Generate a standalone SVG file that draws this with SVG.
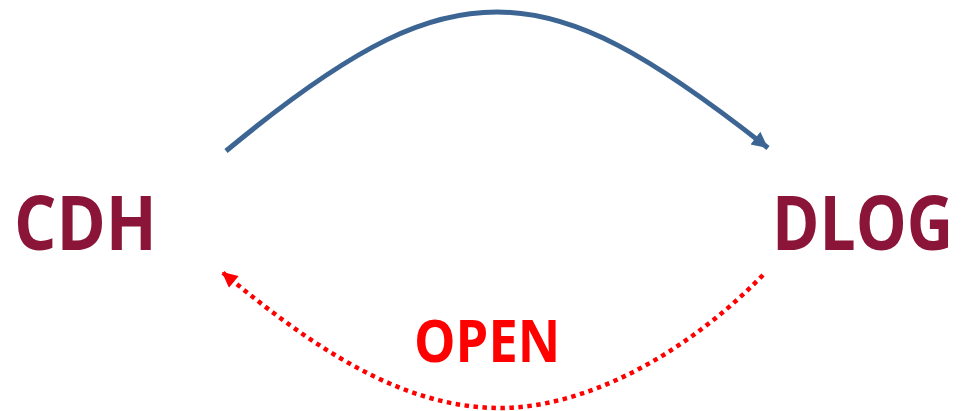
<svg xmlns="http://www.w3.org/2000/svg" width="961" height="411" viewBox="0 0 961 411">
<style>
.node{font-family:"Open Sans","Liberation Sans",sans-serif;font-weight:bold;fill:#8B1538}
.lbl{font-family:"Open Sans","Liberation Sans",sans-serif;font-weight:bold;fill:#FF0000}
</style>
<defs>
<marker id="ab" viewBox="0 0 10 10" refX="10" refY="5" markerWidth="3.6" markerHeight="3.2" markerUnits="strokeWidth" orient="auto">
<path d="M0,0 L10,5 L0,10 z" fill="#3D6594"/>
</marker>
<marker id="ar" viewBox="0 0 10 10" refX="10" refY="5" markerWidth="3.6" markerHeight="3.4" markerUnits="strokeWidth" orient="auto">
<path d="M0,0 L10,5 L0,10 z" fill="#FF0000"/>
</marker>
</defs>
<rect width="961" height="411" fill="#FFFFFF"/>
<g id="connectors">
<path d="M226,151 C360,40 430,12 497,12 C575,12 650,55 768,148" fill="none" stroke="#3D6594" stroke-width="5" marker-end="url(#ab)"/>
<path d="M763,275 C680,360 580,408 500,408 C400,408 310,345 222,272" fill="none" stroke="#FF0000" stroke-width="4.5" stroke-dasharray="4.5 4.5" marker-end="url(#ar)"/>
</g>
<g id="cdh"><text class="node" transform="translate(14,250) scale(0.85,1)" font-size="76" textLength="168" lengthAdjust="spacingAndGlyphs">CDH</text></g>
<g id="dlog"><text class="node" transform="translate(772,250) scale(0.85,1)" font-size="76" textLength="213" lengthAdjust="spacingAndGlyphs">DLOG</text></g>
<g id="open"><text class="lbl" transform="translate(414,362) scale(0.85,1)" font-size="59" textLength="172" lengthAdjust="spacingAndGlyphs">OPEN</text></g>
</svg>
